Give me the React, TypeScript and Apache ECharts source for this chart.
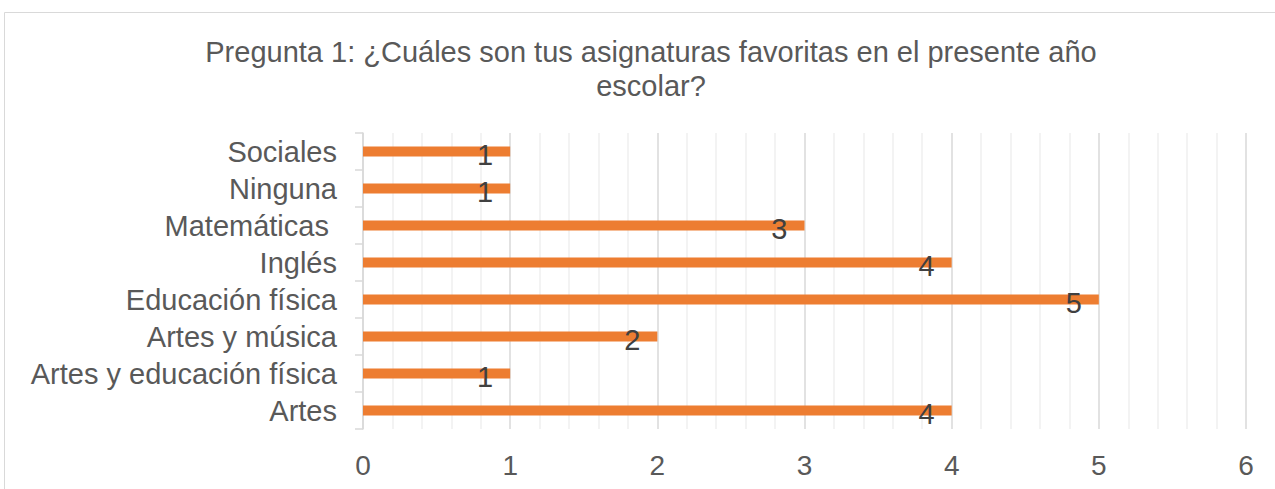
import React, { useEffect, useRef } from "react";
import * as echarts from "echarts";

const titleText = "Pregunta 1: ¿Cuáles son tus asignaturas favoritas en el presente año\nescolar?";
const categories = [
  "Artes",
  "Artes y educación física",
  "Artes y música",
  "Educación física",
  "Inglés",
  "Matemáticas ",
  "Ninguna",
  "Sociales",
];
const values = [4, 1, 2, 5, 4, 3, 1, 1];
const xTicks = [0, 1, 2, 3, 4, 5, 6];

export default function App() {
  const ref = useRef<HTMLDivElement>(null);
  useEffect(() => {
    if (!ref.current) return;
    const chart = echarts.init(ref.current, null, { renderer: "svg" });
    const font = "'Liberation Sans', Arial, sans-serif";
    chart.setOption({
      animation: false,
      backgroundColor: "#ffffff",
      textStyle: { fontFamily: font },
      title: {
        text: titleText,
        left: 646,
        textAlign: "center",
        top: 30,
        textStyle: {
          fontFamily: font,
          fontSize: 29,
          fontWeight: "normal",
          color: "#595959",
          lineHeight: 34,
        },
      },
      graphic: [
        {
          type: "rect",
          shape: { x: 4.5, y: 12.5, width: 1400, height: 600 },
          style: { fill: "none", stroke: "#d9d9d9", lineWidth: 1 },
          silent: true,
        },
      ],
      grid: { left: 363, right: 29, top: 133, bottom: 60 },
      xAxis: {
        type: "value",
        min: xTicks[0],
        max: xTicks[xTicks.length - 1],
        interval: 1,
        axisLine: { show: false },
        axisTick: { show: false },
        axisLabel: {
          fontFamily: font,
          fontSize: 28,
          color: "#595959",
          margin: 22,
        },
        splitLine: { show: true, lineStyle: { color: "#d9d9d9", width: 1.5 } },
        minorTick: { show: false, splitNumber: 5 },
        minorSplitLine: { show: true, lineStyle: { color: "#efefef", width: 1.5 } },
      },
      yAxis: {
        type: "category",
        data: categories,
        axisLine: { show: true, lineStyle: { color: "#d9d9d9", width: 1.5 } },
        axisTick: { show: true, length: 8, lineStyle: { color: "#d9d9d9", width: 1.5 } },
        axisLabel: {
          interval: 0,
          fontFamily: font,
          fontSize: 29,
          color: "#595959",
          margin: 26,
        },
      },
      series: [
        {
          type: "bar",
          data: values,
          barWidth: 10,
          itemStyle: { color: "#ED7D31" },
          label: {
            show: true,
            position: "insideRight",
            distance: 17,
            offset: [0, 3],
            fontFamily: font,
            fontSize: 29,
            color: "#404040",
          },
        },
      ],
    });
    return () => chart.dispose();
  }, []);
  return (
    <div
      ref={ref}
      style={{ position: "fixed", left: 0, top: 0, width: 1275, height: 489 }}
    />
  );
}
